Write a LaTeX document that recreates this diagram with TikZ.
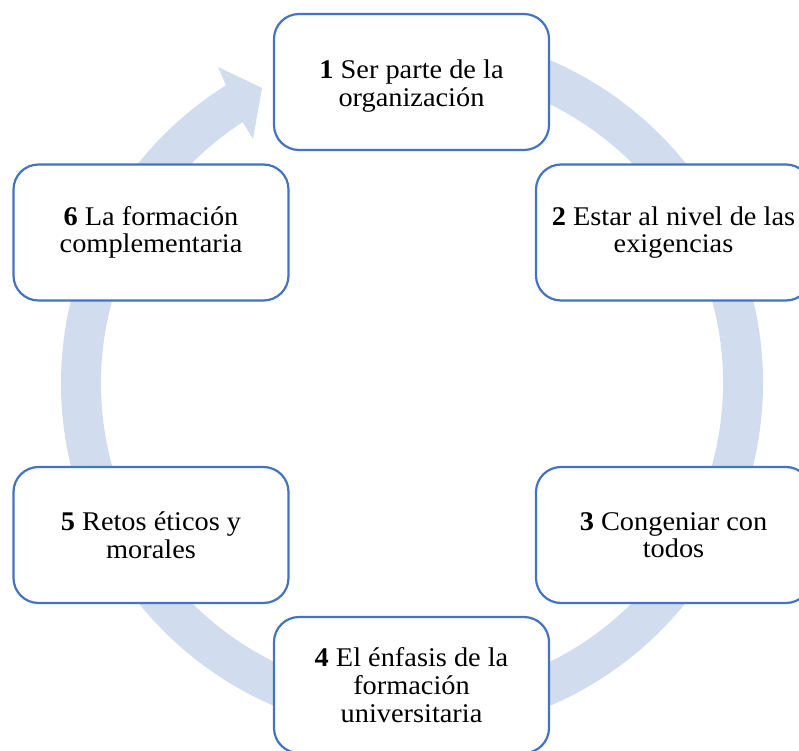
\documentclass[tikz,border=0pt]{standalone}
\usepackage{fontspec}
\setmainfont[FakeStretch=1.05]{Liberation Serif}
\definecolor{ringc}{HTML}{D1DDEF}
\definecolor{boxc}{HTML}{4472C4}
\tikzset{
  steptext/.style={align=center, inner sep=0pt, font=\fontsize{27}{27.5}\selectfont, text=black},
  stepbox/.style={steptext, draw=boxc, line width=2.2pt, fill=white, rounded corners=25pt,
    minimum width=275pt, minimum height=136pt}
}
\begin{document}
\begin{tikzpicture}[x=1pt,y=1pt]
\useasboundingbox (0,0) rectangle (799,750);
\clip (0,0) rectangle (799,750);
\begin{scope}[shift={(412,367)}]
\fill[ringc] (85:351pt) arc[start angle=85, end angle=-238, radius=351pt]
  -- (-194,316) -- (-150,295) -- (-159,244)
  -- (-237:311pt) arc[start angle=-237, end angle=85, radius=311pt] -- cycle;
\end{scope}
\node[stepbox] (n1) at (411.5,668) {};
\node[steptext] (n1t) at ([yshift=-4pt]n1.center) {\textbf{1} Ser parte de la\\organización};
\node[stepbox] (n2) at (673.5,517.5) {\textbf{2} Estar al nivel de las\\exigencias};
\node[stepbox] (n3) at (673.5,215) {\textbf{3} Congeniar con\\todos};
\node[stepbox, font=\fontsize{27}{28}\selectfont] (n4) at (411.5,65) {\textbf{4} El énfasis de la\\formación\\universitaria};
\node[stepbox] (n5) at (151,215) {\textbf{5} Retos éticos y\\morales};
\node[stepbox] (n6) at (151,517.5) {\textbf{6} La formación\\complementaria};
\end{tikzpicture}
\end{document}
